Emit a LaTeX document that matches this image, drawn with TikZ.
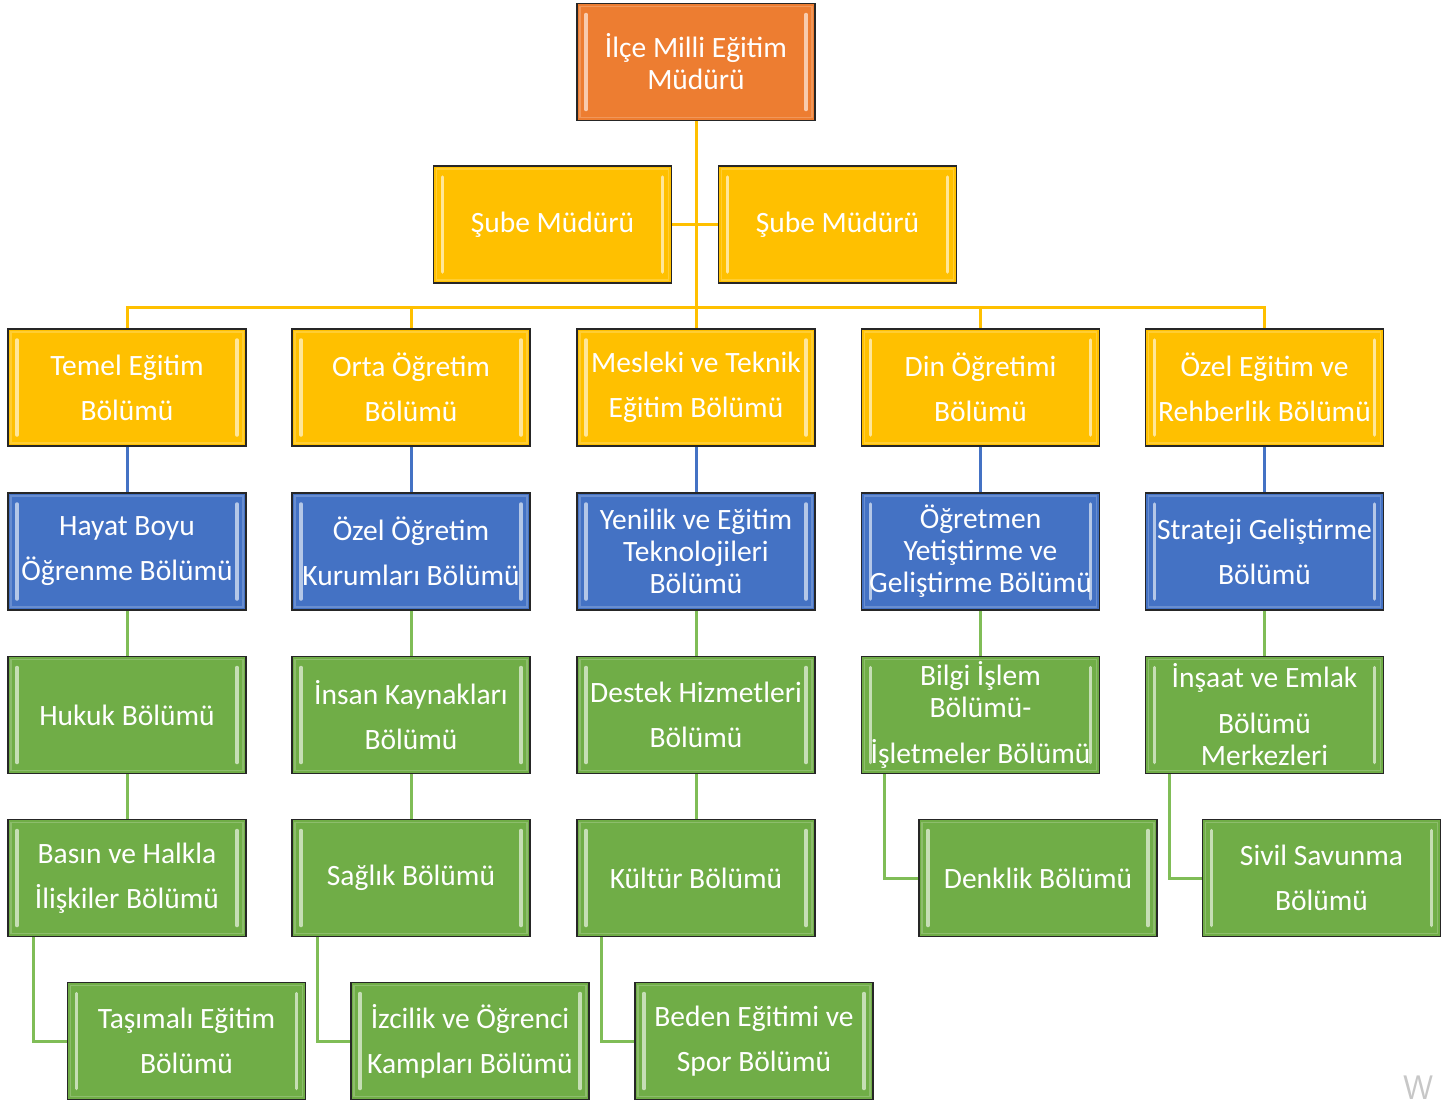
\documentclass[tikz,border=0pt]{standalone}
\usepackage{fontspec}
\setmainfont{Carlito}
\usetikzlibrary{backgrounds}
\definecolor{corange}{HTML}{ED7D31}
\definecolor{cyellow}{HTML}{FFC000}
\definecolor{cblue}{HTML}{4472C4}
\definecolor{cgreen}{HTML}{70AD47}
\definecolor{lgreen}{HTML}{80BD57}
\tikzset{
  box/.style={draw=black!85, line width=1.6pt, minimum width=238pt, minimum height=117pt,
    inner sep=0pt, text=white, align=center, font=\fontsize{29.5}{32}\selectfont,
    path picture={
      \draw[line width=3.5pt, line cap=round, draw=white!60!#1]
        ([xshift=9pt,yshift=-11pt]path picture bounding box.north west) --
        ([xshift=9pt,yshift=11pt]path picture bounding box.south west);
      \draw[line width=3.5pt, line cap=round, draw=white!60!#1]
        ([xshift=-9pt,yshift=-11pt]path picture bounding box.north east) --
        ([xshift=-9pt,yshift=11pt]path picture bounding box.south east);
      \draw[line width=1.5pt, draw=white!20!#1]
        ([xshift=3pt,yshift=-3pt]path picture bounding box.north west) rectangle
        ([xshift=-3pt,yshift=3pt]path picture bounding box.south east);
    },
    fill=#1},
  ylink/.style={draw=cyellow, line width=3pt},
  blink/.style={draw=cblue, line width=3pt},
  glink/.style={draw=lgreen, line width=3pt},
}
\begin{document}
\begin{tikzpicture}[x=1pt,y=-1pt]
\useasboundingbox (0,0) rectangle (1441,1104);
% nodes
\node[box=corange] (top) at (696,62) {İlçe Milli Eğitim\\Müdürü};
\node[box=cyellow] (s1) at (552.5,224.5) {Şube Müdürü};
\node[box=cyellow] (s2) at (837.5,224.5) {Şube Müdürü};

\node[box=cyellow] (r1a) at (127,387.5) {Temel Eğitim\\[13pt]Bölümü};
\node[box=cyellow] (r1b) at (411,387.5) {Orta Öğretim\\[13pt]Bölümü};
\node[box=cyellow] (r1c) at (696,387.5) {Mesleki ve Teknik\\[13pt]Eğitim Bölümü};
\node[box=cyellow] (r1d) at (980.5,387.5) {Din Öğretimi\\[13pt]Bölümü};
\node[box=cyellow] (r1e) at (1264.5,387.5) {Özel Eğitim ve\\[13pt]Rehberlik Bölümü};

\node[box=cblue] (r2a) at (127,551.5) {Hayat Boyu\\[13pt]Öğrenme Bölümü};
\node[box=cblue] (r2b) at (411,551.5) {Özel Öğretim\\[13pt]Kurumları Bölümü};
\node[box=cblue] (r2c) at (696,551.5) {Yenilik ve Eğitim\\Teknolojileri\\Bölümü};
\node[box=cblue] (r2d) at (980.5,551.5) {Öğretmen\\Yetiştirme ve\\Geliştirme Bölümü};
\node[box=cblue] (r2e) at (1264.5,551.5) {Strateji Geliştirme\\[13pt]Bölümü};

\node[box=cgreen] (r3a) at (127,715) {Hukuk Bölümü};
\node[box=cgreen] (r3b) at (411,715) {İnsan Kaynakları\\[13pt]Bölümü};
\node[box=cgreen] (r3c) at (696,715) {Destek Hizmetleri\\[13pt]Bölümü};
\node[box=cgreen] (r3d) at (980.5,715) {Bilgi İşlem\\Bölümü-\\[14pt]İşletmeler Bölümü};
\node[box=cgreen] (r3e) at (1264.5,715) {İnşaat ve Emlak\\[14pt]Bölümü\\Merkezleri};

\node[box=cgreen] (r4a) at (127,878) {Basın ve Halkla\\[13pt]İlişkiler Bölümü};
\node[box=cgreen] (r4b) at (411,878) {Sağlık Bölümü};
\node[box=cgreen] (r4c) at (696,878) {Kültür Bölümü};
\node[box=cgreen] (r4d) at (1038,878) {Denklik Bölümü};
\node[box=cgreen] (r4e) at (1321.5,878) {Sivil Savunma\\[13pt]Bölümü};

\node[box=cgreen] (r5a) at (186.5,1041) {Taşımalı Eğitim\\[13pt]Bölümü};
\node[box=cgreen] (r5b) at (470,1041) {İzcilik ve Öğrenci\\[13pt]Kampları Bölümü};
\node[box=cgreen] (r5c) at (754,1041) {Beden Eğitimi ve\\[13pt]Spor Bölümü};

\node[text=black!22, font=\sffamily\fontsize{34}{34}\selectfont, anchor=west, inner sep=0pt] (wm) at (1403,1088) {W};

% connectors behind boxes
\begin{scope}[on background layer]
  \fill[white] (0,0) rectangle (1441,1104);
  \draw[ylink] (top.south) -- (r1c.north);
  \draw[ylink] (s1.east) -- (s2.west);
  \draw[ylink] (r1a.north) -- ++(0,-21) -| (r1e.north);
  \draw[ylink] (r1b.north) -- ++(0,-21);
  \draw[ylink] (r1d.north) -- ++(0,-21);
  \draw[blink] (r1a.south) -- (r2a.north);
  \draw[blink] (r1b.south) -- (r2b.north);
  \draw[blink] (r1c.south) -- (r2c.north);
  \draw[blink] (r1d.south) -- (r2d.north);
  \draw[blink] (r1e.south) -- (r2e.north);
  \draw[glink] (r2a.south) -- (r3a.north);
  \draw[glink] (r2b.south) -- (r3b.north);
  \draw[glink] (r2c.south) -- (r3c.north);
  \draw[glink] (r2d.south) -- (r3d.north);
  \draw[glink] (r2e.south) -- (r3e.north);
  \draw[glink] (r3a.south) -- (r4a.north);
  \draw[glink] (r3b.south) -- (r4b.north);
  \draw[glink] (r3c.south) -- (r4c.north);
  \draw[glink] ([xshift=-96pt]r3d.south) |- (r4d.west);
  \draw[glink] ([xshift=-95pt]r3e.south) |- (r4e.west);
  \draw[glink] ([xshift=-94pt]r4a.south) |- (r5a.west);
  \draw[glink] ([xshift=-94pt]r4b.south) |- (r5b.west);
  \draw[glink] ([xshift=-95pt]r4c.south) |- (r5c.west);
\end{scope}
\end{tikzpicture}
\end{document}
